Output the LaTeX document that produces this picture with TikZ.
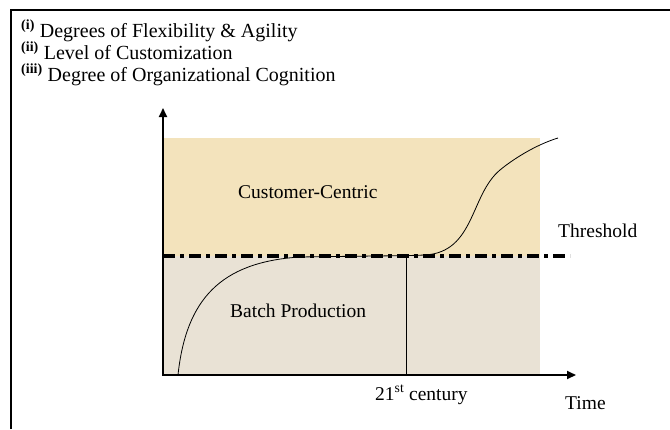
\documentclass[tikz,border=0pt]{standalone}
\usepackage{fontspec}
\setmainfont{Liberation Serif}
\usepackage{xcolor}
\usepackage{tikz}
\usetikzlibrary{arrows.meta}
\definecolor{upperfill}{RGB}{243,227,188}
\definecolor{lowerfill}{RGB}{233,226,213}
\tikzstyle{arrow} = [line width=2pt,-{Triangle[length=9pt,width=8pt]}]
\tikzstyle{label} = [inner sep=0pt,anchor=base west,font=\fontsize{19.5}{23}\selectfont]
\tikzstyle{header} = [label,font=\fontsize{20}{24}\selectfont]

\begin{document}
\begin{tikzpicture}[x=1pt,y=-1pt]
	\useasboundingbox (0,0) rectangle (670,429);
	
	% Frame:
	\draw[line width=2pt] (11,429) -- (11,10) -- (670,10);
	
	% Header lines:
	\node[header] (first) at (21,37) {\textsuperscript{\textbf{(i)}} Degrees of Flexibility \& Agility};
	\node[header] (second) at (21,59) {\textsuperscript{\textbf{(ii)}} Level of Customization};
	\node[header] (third) at (21,81) {\textsuperscript{\textbf{(iii)}} Degree of Organizational Cognition};
	
	% Regions:
	\fill[upperfill] (163,138) rectangle (540,256);
	\fill[lowerfill] (163,256) rectangle (540,375);
	\node[label] (upper) at (238,198) {Customer-Centric};
	\node[label] (lower) at (230,317) {Batch Production};
	
	% Axes:
	\begin{scope}
	\coordinate (origin) at (163,375);
	\coordinate (ytip) at (163,108);
	\coordinate (xtip) at (576,375);
	\draw [arrow] (origin) -- (ytip);
	\draw [arrow] ([xshift=-1pt]origin) -- (xtip);
	\node[label] (time) at (565,409) {Time};
	\end{scope}
	
	% Threshold:
	\coordinate (tl) at (163,256);
	\coordinate (tr) at (570,256);
	\draw[line width=3.5pt, dash pattern=on 12pt off 5pt on 4pt off 5pt] (tl) -- (tr);
	\node[label] (threshold) at (558,237) {Threshold};
	
	% 21st century marker:
	\coordinate (mark) at (406,256);
	\draw[line width=0.8pt] (mark) -- (mark |- origin);
	\node[label] (century) at (375,400) {21\textsuperscript{st} century};
	
	% S-curve:
	\draw[line width=0.8pt] (178,375) .. controls (186,300) and (220,262) .. (300,257)
		.. controls (360,256) and (400,256) .. (425,255)
		.. controls (475,252) and (470,195) .. (500,170)
		.. controls (512,160) and (535,145) .. (558,138);
\end{tikzpicture}
\end{document}
